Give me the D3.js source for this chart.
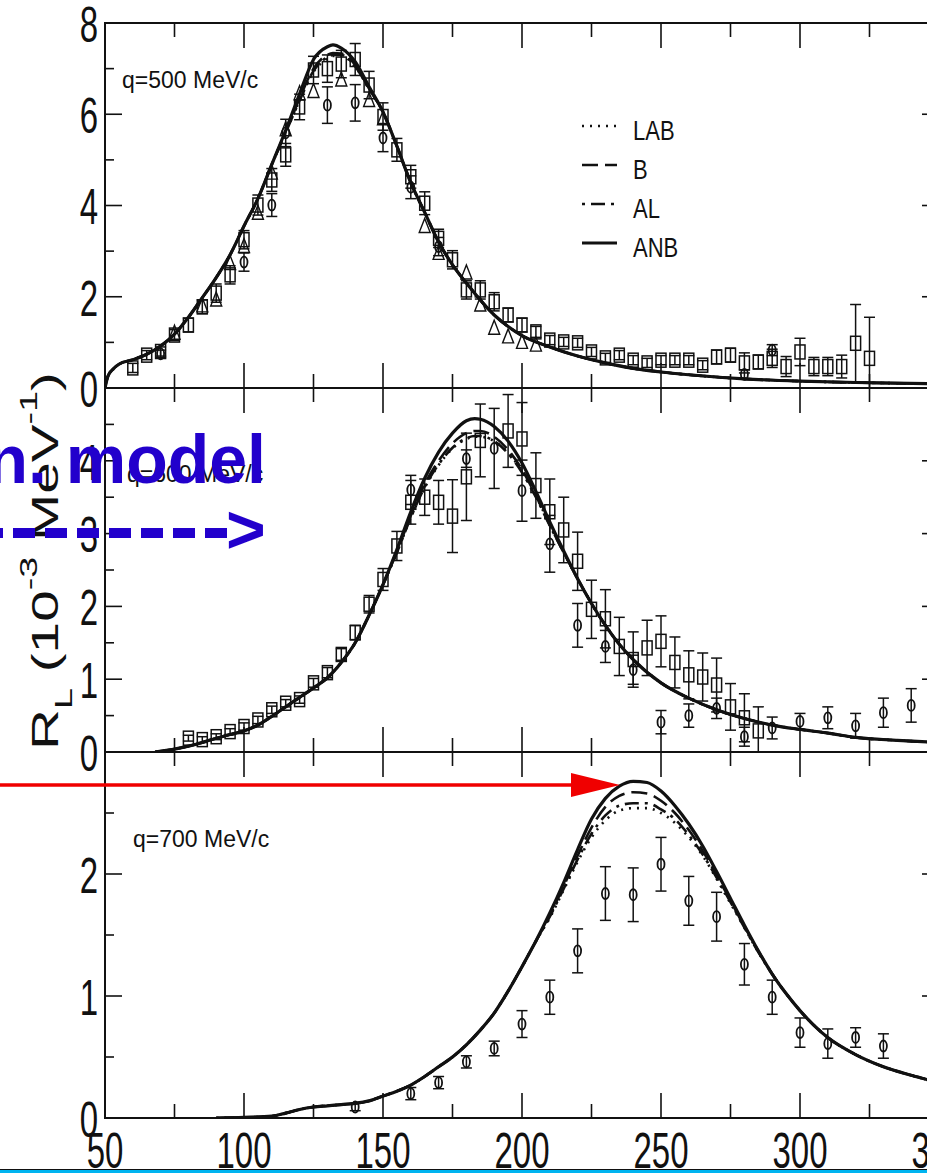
<!DOCTYPE html>
<html>
<head>
<meta charset="utf-8">
<script src="https://cdn.jsdelivr.net/npm/d3@7"></script>
<style>
  body { margin: 0; background: #fff; }
  svg { display: block; }
</style>
</head>
<body>
<svg id="chart" width="927" height="1173"></svg>
<script>
// ---------------- data ----------------
const modelNames = ["LAB", "B", "AL", "ANB"];
const panelLabels = ["q=500 MeV/c", "q=600 MeV/c", "q=700 MeV/c"];
const xTickLabels = [50, 100, 150, 200, 250, 300, 350];

// q = 500 MeV/c : model curves (omega in MeV, R_L in 1e-3 MeV^-1)
const energy500 = [50,51,53,55,60,65,70,75,80,85,90,95,100,105,110,115,120,125,130,132,135,140,145,150,155,160,165,170,175,180,190,200,210,220,230,240,250,260,280,300,320,350];
const anb500 = [0,0.25,0.42,0.52,0.62,0.74,0.92,1.18,1.55,1.98,2.42,2.92,3.55,4.15,4.9,5.65,6.45,7.2,7.48,7.52,7.45,7.15,6.6,6.05,5.3,4.5,3.85,3.2,2.7,2.3,1.6,1.15,0.9,0.7,0.55,0.43,0.35,0.29,0.2,0.15,0.12,0.09];
const b500   = [0,0.25,0.42,0.52,0.62,0.74,0.92,1.18,1.55,1.98,2.42,2.92,3.55,4.15,4.9,5.62,6.35,7.0,7.3,7.34,7.33,7.08,6.56,6.05,5.3,4.5,3.85,3.2,2.7,2.3,1.6,1.15,0.9,0.7,0.55,0.43,0.35,0.29,0.2,0.15,0.12,0.09];
const al500  = [0,0.25,0.42,0.52,0.62,0.74,0.92,1.18,1.55,1.98,2.42,2.92,3.55,4.15,4.9,5.6,6.3,6.95,7.25,7.3,7.3,7.05,6.55,6.05,5.3,4.5,3.85,3.2,2.7,2.3,1.6,1.15,0.9,0.7,0.55,0.43,0.35,0.29,0.2,0.15,0.12,0.09];
const lab500 = [0,0.25,0.42,0.52,0.62,0.74,0.92,1.18,1.55,1.98,2.42,2.92,3.55,4.15,4.9,5.6,6.3,6.93,7.22,7.28,7.28,7.04,6.55,6.05,5.3,4.5,3.85,3.2,2.7,2.3,1.6,1.15,0.9,0.7,0.55,0.43,0.35,0.29,0.2,0.15,0.12,0.09];

// q = 500 MeV/c : measured points [omega, R_L, error]
const squares500 = [[60,0.44,0.1],[65,0.72,0.1],[70,0.8,0.1],[75,1.16,0.12],[80,1.38,0.15],[85,1.78,0.15],[90,2.08,0.2],[95,2.48,0.2],[100,3.25,0.2],[105,4.01,0.22],[110,4.56,0.25],[115,5.11,0.25],[120,6.16,0.28],[125,6.97,0.3],[130,7.0,0.3],[135,7.1,0.3],[140,7.2,0.35],[145,6.64,0.3],[150,5.95,0.3],[155,5.22,0.25],[160,4.63,0.25],[165,4.05,0.25],[170,3.28,0.2],[175,2.81,0.2],[180,2.15,0.2],[185,2.15,0.2],[190,1.89,0.2],[195,1.6,0.15],[200,1.38,0.15],[205,1.23,0.12],[210,1.05,0.1],[215,1.01,0.1],[220,0.99,0.1],[225,0.79,0.1],[230,0.66,0.1],[235,0.72,0.1],[240,0.61,0.1],[245,0.55,0.1],[250,0.61,0.1],[255,0.61,0.1],[260,0.61,0.1],[265,0.5,0.1],[270,0.68,0.15],[275,0.72,0.15],[280,0.55,0.22],[285,0.57,0.15],[290,0.65,0.2],[295,0.47,0.22],[300,0.79,0.3],[305,0.47,0.2],[310,0.47,0.2],[315,0.47,0.25],[320,0.98,0.85],[325,0.65,0.9]];
const circles500 = [[70,0.75,0.08],[100,2.76,0.2],[110,4.01,0.25],[115,5.59,0.3],[130,6.2,0.4],[140,6.25,0.4],[150,5.48,0.3],[160,4.4,0.25],[170,3.1,0.2],[280,0.3,0.1],[290,0.83,0.12]];
const triangles500 = [[75,1.2],[85,1.8],[90,1.93],[95,2.73],[100,3.1],[105,3.83],[110,4.71],[115,5.66],[120,6.45],[125,6.5],[135,6.75],[145,6.3],[150,5.9],[165,3.54],[170,2.95],[180,2.52],[185,1.82],[190,1.31],[195,1.12],[200,1.0],[205,0.94]];

// q = 600 MeV/c : model curves
const energy600 = [68,75,80,85,90,95,100,105,110,115,120,125,130,135,140,145,150,155,160,165,170,175,180,183,185,190,195,200,205,210,215,220,225,230,235,240,250,260,270,280,290,300,310,320,335,350];
const anb600 = [0,0.04,0.08,0.13,0.19,0.24,0.29,0.37,0.49,0.62,0.75,0.88,1.02,1.23,1.5,1.88,2.3,2.78,3.3,3.76,4.12,4.38,4.55,4.58,4.57,4.47,4.27,3.97,3.58,3.16,2.76,2.38,2.04,1.74,1.48,1.27,0.95,0.74,0.58,0.46,0.37,0.31,0.26,0.2,0.16,0.13];
const b600   = [0,0.04,0.08,0.13,0.19,0.24,0.29,0.37,0.49,0.62,0.75,0.88,1.02,1.23,1.5,1.88,2.3,2.75,3.25,3.68,4.0,4.24,4.38,4.41,4.41,4.33,4.15,3.88,3.52,3.12,2.74,2.38,2.04,1.74,1.48,1.27,0.95,0.74,0.58,0.46,0.37,0.31,0.26,0.2,0.16,0.13];
const al600  = [0,0.04,0.08,0.13,0.19,0.24,0.29,0.37,0.49,0.62,0.75,0.88,1.02,1.23,1.5,1.88,2.3,2.74,3.22,3.64,3.95,4.18,4.31,4.34,4.34,4.27,4.1,3.84,3.5,3.11,2.74,2.38,2.04,1.74,1.48,1.27,0.95,0.74,0.58,0.46,0.37,0.31,0.26,0.2,0.16,0.13];
const lab600 = [0,0.04,0.08,0.13,0.19,0.24,0.29,0.37,0.49,0.62,0.75,0.88,1.02,1.23,1.5,1.88,2.3,2.74,3.22,3.63,3.94,4.17,4.3,4.33,4.33,4.27,4.11,3.86,3.52,3.12,2.74,2.38,2.04,1.74,1.48,1.27,0.95,0.74,0.58,0.46,0.37,0.31,0.26,0.2,0.16,0.13];

const squares600 = [[80,0.19,0.04],[85,0.17,0.04],[90,0.21,0.04],[95,0.28,0.04],[100,0.35,0.05],[105,0.44,0.05],[110,0.58,0.05],[115,0.67,0.05],[120,0.72,0.05],[125,0.95,0.06],[130,1.09,0.07],[135,1.34,0.08],[140,1.64,0.1],[145,2.03,0.12],[150,2.37,0.15],[155,2.83,0.2],[160,3.43,0.3],[165,3.5,0.25],[170,3.43,0.3],[175,3.24,0.5],[180,3.78,0.6],[185,4.28,0.5],[195,4.41,0.5],[200,4.3,0.5],[205,3.66,0.45],[210,3.3,0.45],[215,3.05,0.45],[220,2.62,0.4],[225,1.96,0.4],[230,1.83,0.4],[235,1.45,0.4],[240,1.27,0.38],[245,1.43,0.38],[250,1.52,0.35],[255,1.23,0.35],[260,1.06,0.33],[265,1.03,0.33],[270,0.92,0.37],[275,0.62,0.32],[280,0.47,0.33],[285,0.29,0.33]];
const circles600 = [[160,3.6,0.2],[180,4.03,0.12],[190,4.17,0.55],[200,3.59,0.42],[210,2.86,0.39],[220,1.74,0.3],[230,1.45,0.22],[240,1.13,0.2],[250,0.41,0.16],[260,0.5,0.16],[270,0.6,0.14],[280,0.21,0.13],[290,0.33,0.15],[300,0.42,0.11],[310,0.47,0.15],[320,0.36,0.17],[330,0.54,0.2],[340,0.64,0.23]];

// q = 700 MeV/c : model curves
const energy700 = [90,100,110,115,120,125,130,135,140,145,150,155,160,165,170,175,180,185,190,195,200,205,210,215,220,225,230,235,240,245,250,255,260,265,270,275,280,285,290,295,300,305,310,320,330,340,350];
const anb700 = [0,0.005,0.015,0.04,0.07,0.09,0.1,0.11,0.12,0.14,0.18,0.22,0.27,0.34,0.42,0.5,0.6,0.72,0.86,1.04,1.24,1.45,1.68,1.93,2.2,2.45,2.62,2.72,2.76,2.75,2.68,2.56,2.41,2.23,2.02,1.8,1.58,1.37,1.18,1.02,0.88,0.76,0.66,0.52,0.42,0.35,0.29];
const b700   = [0,0.005,0.015,0.04,0.07,0.09,0.1,0.11,0.12,0.14,0.18,0.22,0.27,0.34,0.42,0.5,0.6,0.72,0.86,1.04,1.24,1.45,1.66,1.9,2.15,2.38,2.55,2.64,2.67,2.66,2.6,2.5,2.36,2.19,1.99,1.78,1.57,1.37,1.18,1.02,0.88,0.76,0.66,0.52,0.42,0.35,0.29];
const al700  = [0,0.005,0.015,0.04,0.07,0.09,0.1,0.11,0.12,0.14,0.18,0.22,0.27,0.34,0.42,0.5,0.6,0.72,0.86,1.04,1.24,1.45,1.65,1.88,2.12,2.33,2.48,2.56,2.58,2.58,2.53,2.45,2.32,2.16,1.97,1.77,1.56,1.36,1.18,1.02,0.88,0.76,0.66,0.52,0.42,0.35,0.29];
const lab700 = [0,0.005,0.015,0.04,0.07,0.09,0.1,0.11,0.12,0.14,0.18,0.22,0.27,0.34,0.42,0.5,0.6,0.72,0.86,1.04,1.24,1.45,1.64,1.87,2.1,2.3,2.44,2.52,2.54,2.54,2.5,2.42,2.3,2.15,1.96,1.76,1.56,1.36,1.18,1.02,0.88,0.76,0.66,0.52,0.42,0.35,0.29];

const circles700 = [[140,0.09,0.03],[160,0.2,0.05],[170,0.29,0.05],[180,0.46,0.05],[190,0.57,0.06],[200,0.77,0.11],[210,0.99,0.14],[220,1.37,0.18],[230,1.84,0.22],[240,1.83,0.22],[250,2.08,0.22],[260,1.78,0.2],[270,1.65,0.2],[280,1.26,0.17],[290,0.99,0.14],[300,0.7,0.12],[310,0.61,0.12],[320,0.66,0.08],[330,0.59,0.1]];

// ---------------- layout & styles ----------------
const svg = d3.select("#chart");
const x = d3.scaleLinear().domain([50, 350]).range([105, 939]);

const panels = [
  { label: panelLabels[0], domain: [0, 8], range: [388, 23], major: 2, minor: 1, labelTop: 8, labelX: 122, labelY: 88,
    energy: energy500, curves: { LAB: lab500, B: b500, AL: al500, ANB: anb500 },
    squares: squares500, circles: circles500, triangles: triangles500 },
  { label: panelLabels[1], domain: [0, 5], range: [752, 388], major: 1, minor: 0.5, labelTop: 4, labelX: 127, labelY: 482,
    energy: energy600, curves: { LAB: lab600, B: b600, AL: al600, ANB: anb600 },
    squares: squares600, circles: circles600, triangles: [] },
  { label: panelLabels[2], domain: [0, 3], range: [1118, 752], major: 1, minor: 0.5, labelTop: 2, labelX: 133, labelY: 847,
    energy: energy700, curves: { LAB: lab700, B: b700, AL: al700, ANB: anb700 },
    squares: [], circles: circles700, triangles: [] }
];

const lineStyle = {
  LAB: { dash: "2,6", width: 2.6 },
  B:   { dash: "16,7", width: 2.6 },
  AL:  { dash: "3,6,14,6", width: 2.6 },
  ANB: { dash: null, width: 3.2 }
};
const ink = "#111";
const tickFont = "'Liberation Sans', Arial, sans-serif";

const defs = svg.append("defs");

panels.forEach((p, i) => {
  const y = d3.scaleLinear().domain(p.domain).range(p.range);
  const g = svg.append("g");
  const top = p.range[1], bottom = p.range[0];

  defs.append("clipPath").attr("id", "clip" + i)
    .append("rect").attr("x", x(50)).attr("y", top).attr("width", x(350) - x(50)).attr("height", bottom - top);

  // x ticks on top and bottom edges of the panel
  const xMinor = d3.range(50, 351, 25);
  xMinor.forEach(v => {
    const isMajor = v % 50 === 0;
    const len = isMajor ? 25 : 14;
    g.append("line").attr("x1", x(v)).attr("x2", x(v)).attr("y1", bottom).attr("y2", bottom - len)
      .attr("stroke", ink).attr("stroke-width", 1.6);
    g.append("line").attr("x1", x(v)).attr("x2", x(v)).attr("y1", top).attr("y2", top + len)
      .attr("stroke", ink).attr("stroke-width", 1.6);
  });

  // y ticks on left and right edges
  const nMinor = Math.round((p.domain[1] - p.domain[0]) / p.minor);
  d3.range(nMinor + 1).map(k => p.domain[0] + k * p.minor).forEach(v => {
    const isMajor = Math.abs(v / p.major - Math.round(v / p.major)) < 1e-6;
    const len = isMajor ? 17 : 9;
    g.append("line").attr("x1", x(50)).attr("x2", x(50) + len).attr("y1", y(v)).attr("y2", y(v))
      .attr("stroke", ink).attr("stroke-width", 1.6);
    g.append("line").attr("x1", x(350)).attr("x2", x(350) - len).attr("y1", y(v)).attr("y2", y(v))
      .attr("stroke", ink).attr("stroke-width", 1.6);
    if (isMajor && v <= p.labelTop) {
      g.append("text")
        .attr("transform", `translate(98,${y(v)}) scale(1,1.5)`)
        .attr("y", 12.5)
        .attr("text-anchor", "end")
        .attr("font-family", tickFont).attr("font-size", 33).attr("fill", ink)
        .text(d3.format("d")(v));
    }
  });

  // panel frame
  g.append("rect").attr("x", x(50)).attr("y", top).attr("width", x(350) - x(50)).attr("height", bottom - top)
    .attr("fill", "none").attr("stroke", ink).attr("stroke-width", 2);

  // panel label
  g.append("text")
    .attr("transform", `translate(${p.labelX},${p.labelY}) scale(1,1.05)`)
    .attr("font-family", tickFont).attr("font-size", 23).attr("fill", ink)
    .text(p.label);

  const plot = g.append("g").attr("clip-path", `url(#clip${i})`);

  // model curves
  const line = d3.line().x(d => x(d[0])).y(d => y(d[1])).curve(d3.curveMonotoneX);
  modelNames.forEach(name => {
    const pts = p.energy.map((e, k) => [e, p.curves[name][k]]);
    const st = lineStyle[name];
    plot.append("path").datum(pts).attr("d", line)
      .attr("fill", "none").attr("stroke", ink).attr("stroke-width", st.width)
      .attr("stroke-dasharray", st.dash);
  });

  // error bars
  const drawErr = (arr) => arr.forEach(d => {
    const [e, v, err] = d;
    const cx = x(e);
    plot.append("line").attr("x1", cx).attr("x2", cx).attr("y1", y(v - err)).attr("y2", y(v + err))
      .attr("stroke", ink).attr("stroke-width", 1.5);
    [v - err, v + err].forEach(w => plot.append("line")
      .attr("x1", cx - 5.5).attr("x2", cx + 5.5).attr("y1", y(w)).attr("y2", y(w))
      .attr("stroke", ink).attr("stroke-width", 1.5));
  });
  drawErr(p.squares);
  drawErr(p.circles);

  plot.selectAll(null).data(p.squares).join("rect")
    .attr("x", d => x(d[0]) - 5).attr("y", d => y(d[1]) - 7).attr("width", 10).attr("height", 14)
    .attr("fill", "none").attr("stroke", ink).attr("stroke-width", 1.5);
  plot.selectAll(null).data(p.circles).join("ellipse")
    .attr("cx", d => x(d[0])).attr("cy", d => y(d[1])).attr("rx", 3.5).attr("ry", 5.5)
    .attr("fill", "none").attr("stroke", ink).attr("stroke-width", 1.8);
  plot.selectAll(null).data(p.triangles).join("path")
    .attr("d", d => { const cx = x(d[0]), cy = y(d[1]); return `M${cx},${cy - 8}L${cx + 5.5},${cy + 6}L${cx - 5.5},${cy + 6}Z`; })
    .attr("fill", "none").attr("stroke", ink).attr("stroke-width", 1.4);
});

// x tick labels along the bottom
xTickLabels.forEach(v => {
  svg.append("text")
    .attr("transform", `translate(${x(v)},1168) scale(1,1.5)`)
    .attr("text-anchor", "middle")
    .attr("font-family", tickFont).attr("font-size", 33).attr("fill", ink)
    .text(v);
});

// legend
const legendY = [140, 179, 218, 257];
modelNames.forEach((name, k) => {
  const st = lineStyle[name];
  svg.append("line").attr("x1", 582).attr("x2", 617).attr("y1", legendY[k] - 14).attr("y2", legendY[k] - 14)
    .attr("stroke", ink).attr("stroke-width", st.width).attr("stroke-dasharray", st.dash);
  svg.append("text")
    .attr("transform", `translate(633,${legendY[k]}) scale(1,1.28)`)
    .attr("font-family", tickFont).attr("font-size", 22).attr("fill", ink)
    .text(name);
});

// y-axis title, rotated
const yTitleG = svg.append("g").attr("transform", "translate(58,561) rotate(-90)");
const yTitle = yTitleG.append("text")
  .attr("text-anchor", "middle")
  .attr("font-family", tickFont).attr("font-size", 36).attr("fill", ink);
yTitle.append("tspan").text("R");
yTitle.append("tspan").attr("font-size", 24).attr("dy", 14).text("L");
yTitle.append("tspan").attr("dy", -14).text(" (10");
yTitle.append("tspan").attr("font-size", 24).attr("dy", -21).text("-3");
yTitle.append("tspan").attr("dy", 21).text(" MeV");
yTitle.append("tspan").attr("font-size", 24).attr("dy", -21).text("-1");
yTitle.append("tspan").attr("dy", 21).text(")");
const titleLen = yTitle.node().getComputedTextLength();
yTitle.attr("transform", `scale(${378 / titleLen},1)`);

// blue annotation with dashed pointer
svg.append("text")
  .attr("x", 266).attr("y", 483)
  .attr("text-anchor", "end")
  .attr("font-family", tickFont).attr("font-weight", "bold").attr("font-size", 68)
  .attr("fill", "#2200cc")
  .text("n. model");
svg.append("line").attr("x1", -19).attr("x2", 227).attr("y1", 533).attr("y2", 533)
  .attr("stroke", "#2200cc").attr("stroke-width", 10).attr("stroke-dasharray", "22,10");
svg.append("text")
  .attr("x", 226).attr("y", 553)
  .attr("font-family", tickFont).attr("font-weight", "bold").attr("font-size", 68)
  .attr("fill", "#2200cc")
  .text(">");

// red arrow pointing at the q=700 peak
svg.append("line").attr("x1", 0).attr("x2", 574).attr("y1", 785).attr("y2", 785)
  .attr("stroke", "#f00000").attr("stroke-width", 3.5);
svg.append("path").attr("d", "M571,773L620,785L571,797Z").attr("fill", "#f00000");

// bottom band
svg.append("rect").attr("x", 0).attr("y", 1170).attr("width", 927).attr("height", 3).attr("fill", "#00b4f0");
svg.append("line").attr("x1", 0).attr("x2", 927).attr("y1", 1169.5).attr("y2", 1169.5)
  .attr("stroke", "#111").attr("stroke-width", 1);
</script>
</body>
</html>
